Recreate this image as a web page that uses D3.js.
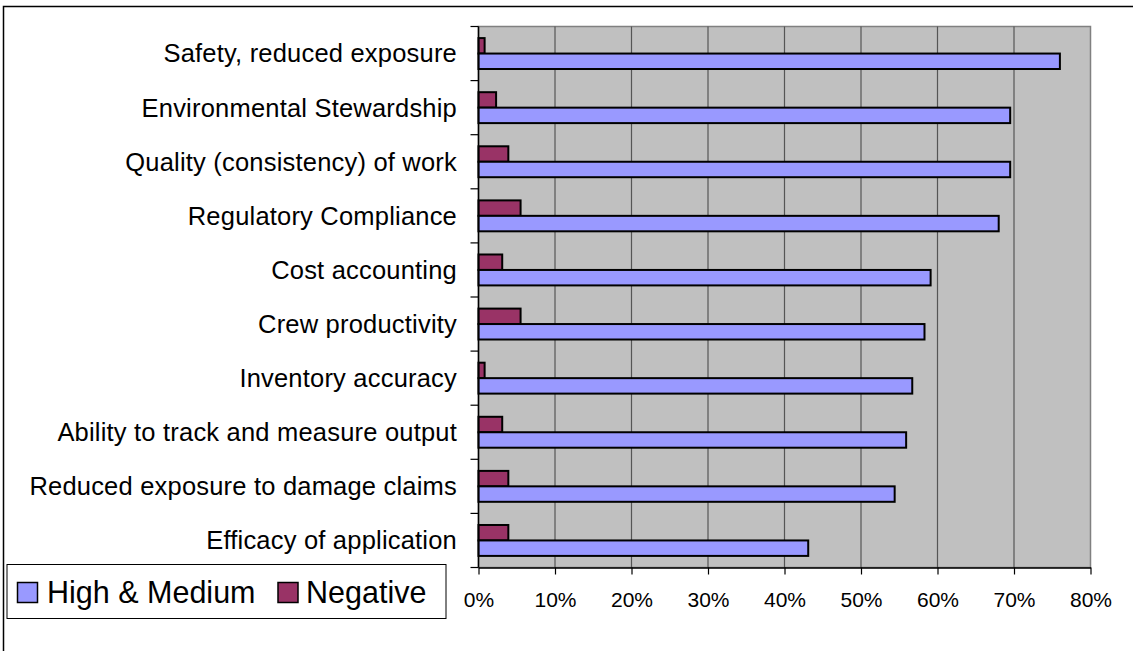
<!DOCTYPE html>
<html>
<head>
<meta charset="utf-8">
<script src="https://cdn.jsdelivr.net/npm/d3@7"></script>
<style>
  html, body { margin: 0; padding: 0; background: #ffffff; }
  svg { display: block; }
  text { font-family: "Liberation Sans", Arial, sans-serif; fill: #000; }
</style>
</head>
<body>
<svg id="chart" width="1133" height="651"></svg>
<script>
// Survey categories, top to bottom
const categories = [
  "Safety, reduced exposure",
  "Environmental Stewardship",
  "Quality (consistency) of work",
  "Regulatory Compliance",
  "Cost accounting",
  "Crew productivity",
  "Inventory accuracy",
  "Ability to track and measure output",
  "Reduced exposure to damage claims",
  "Efficacy of application"
];

// Share of respondents (%) per category
const highMedium = [76.0, 69.5, 69.5, 68.0, 59.1, 58.3, 56.7, 55.9, 54.4, 43.1];
const negative   = [0.8, 2.3, 3.9, 5.5, 3.1, 5.5, 0.8, 3.1, 3.9, 3.9];

const seriesNames = ["High & Medium", "Negative"];
const seriesColors = ["#9999FF", "#993366"];
const xTicks = [0, 10, 20, 30, 40, 50, 60, 70, 80];

const svg = d3.select("#chart");

// Outer chart frame
svg.append("rect")
  .attr("x", 3.5).attr("y", 6.5)
  .attr("width", 1140).attr("height", 660)
  .attr("fill", "none").attr("stroke", "#000").attr("stroke-width", 1.5);

const plot = { left: 478.5, right: 1090.5, top: 26.5, bottom: 567.5 };

const x = d3.scaleLinear().domain([0, 80]).range([plot.left, plot.right]);
const y0 = d3.scaleBand().domain(categories).range([plot.top, plot.bottom]);
// Negative sits above High & Medium inside each category band
const y1 = d3.scaleBand().domain(["Negative", "High & Medium"])
  .range([0, y0.bandwidth()]).paddingInner(0).paddingOuter(0.75);

// Plot area background
svg.append("rect")
  .attr("x", plot.left).attr("y", plot.top)
  .attr("width", plot.right - plot.left).attr("height", plot.bottom - plot.top)
  .attr("fill", "#C0C0C0").attr("stroke", "#808080").attr("stroke-width", 1.5);

// Vertical gridlines
svg.append("g").selectAll("line")
  .data(xTicks.slice(1, -1))
  .join("line")
  .attr("x1", d => x(d)).attr("x2", d => x(d))
  .attr("y1", plot.top).attr("y2", plot.bottom)
  .attr("stroke", "#555").attr("stroke-width", 1.2);

// Bars
const groups = svg.append("g").selectAll("g")
  .data(categories)
  .join("g")
  .attr("transform", d => `translate(0,${y0(d)})`);

groups.append("rect")
  .attr("x", x(0))
  .attr("y", y1("Negative"))
  .attr("width", (d, i) => x(negative[i]) - x(0))
  .attr("height", y1.bandwidth())
  .attr("fill", seriesColors[1]).attr("stroke", "#000").attr("stroke-width", 2);

groups.append("rect")
  .attr("x", x(0))
  .attr("y", y1("High & Medium"))
  .attr("width", (d, i) => x(highMedium[i]) - x(0))
  .attr("height", y1.bandwidth())
  .attr("fill", seriesColors[0]).attr("stroke", "#000").attr("stroke-width", 2);

// X axis
const xAxis = svg.append("g")
  .attr("transform", `translate(0,${plot.bottom})`)
  .call(d3.axisBottom(x).tickValues(xTicks).tickFormat(d => d + "%").tickSize(7).tickSizeOuter(0));
xAxis.select(".domain").attr("stroke", "#000").attr("stroke-width", 1.5);
xAxis.selectAll(".tick line").attr("stroke", "#000").attr("stroke-width", 1.2);
xAxis.selectAll(".tick text")
  .attr("y", 32.5).attr("dy", "0.35em")
  .style("font-size", "21px").style("font-family", "'Liberation Sans', Arial, sans-serif");

// Y axis: ticks at category boundaries, labels centred in bands
const boundaries = categories.map(c => y0(c)).concat([plot.bottom]);
svg.append("g").selectAll("line")
  .data(boundaries)
  .join("line")
  .attr("x1", plot.left - 8).attr("x2", plot.left)
  .attr("y1", d => d).attr("y2", d => d)
  .attr("stroke", "#000").attr("stroke-width", 1.2);
svg.append("line")
  .attr("x1", plot.left).attr("x2", plot.left)
  .attr("y1", plot.top).attr("y2", plot.bottom)
  .attr("stroke", "#000").attr("stroke-width", 1.5);

svg.append("g").selectAll("text")
  .data(categories)
  .join("text")
  .attr("x", 457)
  .attr("y", d => y0(d) + y0.bandwidth() / 2)
  .attr("dy", "0.35em")
  .attr("text-anchor", "end")
  .style("font-size", "25.5px")
  .style("letter-spacing", "0.2px")
  .text(d => d);

// Legend
const legend = svg.append("g");
legend.append("rect")
  .attr("x", 7).attr("y", 564.5).attr("width", 439).attr("height", 54)
  .attr("fill", "#fff").attr("stroke", "#000").attr("stroke-width", 1);

const legendItems = [
  { name: seriesNames[0], color: seriesColors[0], sx: 17.5, tx: 47 },
  { name: seriesNames[1], color: seriesColors[1], sx: 278, tx: 306 }
];
legendItems.forEach(item => {
  legend.append("rect")
    .attr("x", item.sx).attr("y", 582.5).attr("width", 20).attr("height", 20)
    .attr("fill", item.color).attr("stroke", "#000").attr("stroke-width", 1.5);
  legend.append("text")
    .attr("x", item.tx).attr("y", 592.5).attr("dy", "0.36em")
    .style("font-size", "30.5px")
    .text(item.name);
});
</script>
</body>
</html>
